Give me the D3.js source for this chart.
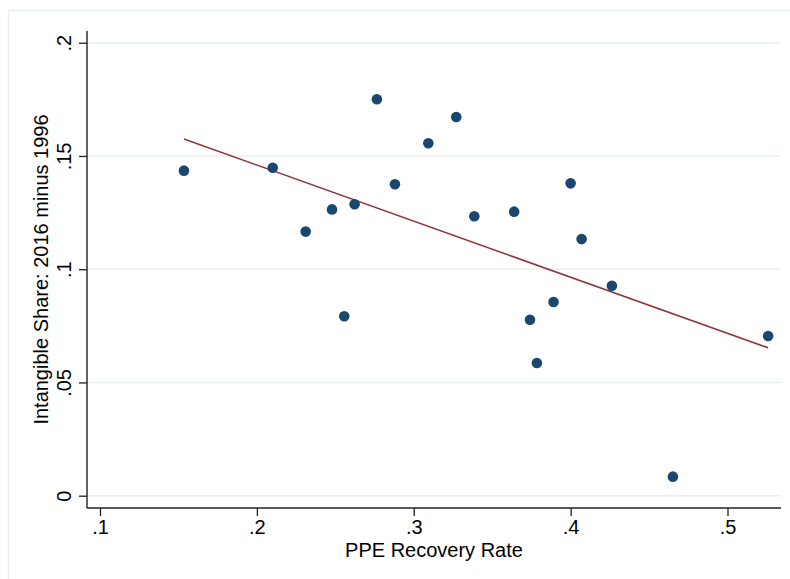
<!DOCTYPE html>
<html>
<head>
<meta charset="utf-8">
<script src="https://cdn.jsdelivr.net/npm/d3@7"></script>
<style>
  html, body { margin: 0; padding: 0; background: #ffffff; }
  svg { display: block; }
  text { font-family: "Liberation Sans", Arial, Helvetica, sans-serif; fill: #000; }
</style>
</head>
<body>
<svg id="chart" width="790" height="579"></svg>
<script>
// PPE recovery rate (x) vs change in intangible share 2016-1996 (y), one point per industry
const recoveryRate = [0.1535, 0.2101, 0.2311, 0.2479, 0.2623, 0.2557, 0.2765, 0.2880, 0.3093, 0.3271,
                      0.3386, 0.3640, 0.4000, 0.4070, 0.4263, 0.3891, 0.3741, 0.3785, 0.4652, 0.5259];
const intangibleChange = [0.1435, 0.1448, 0.1166, 0.1264, 0.1287, 0.0792, 0.1750, 0.1375, 0.1556, 0.1672,
                          0.1234, 0.1254, 0.1379, 0.1133, 0.0927, 0.0855, 0.0777, 0.0586, 0.0084, 0.0705];
// fitted line: value at the lowest and highest recovery rate
const fitX = [0.1535, 0.5259];
const fitY = [0.1575, 0.0653];
const xTicks = [0.1, 0.2, 0.3, 0.4, 0.5];
const yTicks = [0, 0.05, 0.1, 0.15, 0.2];
const xTitle = "PPE Recovery Rate";
const yTitle = "Intangible Share: 2016 minus 1996";

const svg = d3.select("#chart");

// plot region bounds
const plotLeft = 87, plotRight = 781, plotTop = 31, plotBottom = 508;

const x = d3.scaleLinear().domain([0.1, 0.5]).range([100, 727.5]);
const y = d3.scaleLinear().domain([0, 0.2]).range([495.7, 42.7]);

const fmt = d => d === 0 ? "0" : String(d).replace(/^0/, "");
const fontSize = "20px";

// outer graph-region frame
svg.append("rect")
  .attr("x", 8.5).attr("y", 10.5)
  .attr("width", 800).attr("height", 600)
  .attr("fill", "#ffffff")
  .attr("stroke", "#e8eff1").attr("stroke-width", 1.5);

// horizontal grid lines
svg.append("g").selectAll("line").data(yTicks).join("line")
  .attr("x1", plotLeft).attr("x2", plotRight)
  .attr("y1", d => y(d)).attr("y2", d => y(d))
  .attr("stroke", "#e8eff1").attr("stroke-width", 1.6);

// fitted line
svg.append("path")
  .datum(fitX.map((v, i) => [v, fitY[i]]))
  .attr("d", d3.line().x(d => x(d[0])).y(d => y(d[1])))
  .attr("fill", "none")
  .attr("stroke", "#90353b").attr("stroke-width", 1.6);

// scatter points
svg.append("g").selectAll("circle").data(recoveryRate).join("circle")
  .attr("cx", d => x(d))
  .attr("cy", (d, i) => y(intangibleChange[i]))
  .attr("r", 5.3)
  .attr("fill", "#1a476f");

// axes
const xAxis = svg.append("g")
  .attr("transform", `translate(0,${plotBottom})`)
  .call(d3.axisBottom(x).tickValues(xTicks).tickFormat(fmt).tickSize(8));
xAxis.select(".domain").remove();
xAxis.selectAll("line").attr("stroke", "#222").attr("stroke-width", 1.3);
xAxis.selectAll("text").attr("font-size", fontSize).attr("dy", 0).attr("y", 26);

const yAxis = svg.append("g")
  .attr("transform", `translate(${plotLeft},0)`)
  .call(d3.axisLeft(y).tickValues(yTicks).tickFormat(fmt).tickSize(8));
yAxis.select(".domain").remove();
yAxis.selectAll("line").attr("stroke", "#222").attr("stroke-width", 1.3);
yAxis.selectAll("text")
  .attr("font-size", fontSize)
  .attr("text-anchor", "middle")
  .attr("transform", "rotate(-90)")
  .attr("x", 0).attr("dy", 0).attr("y", -16);

// axis lines
svg.append("line").attr("x1", plotLeft).attr("x2", plotLeft).attr("y1", plotTop).attr("y2", plotBottom)
  .attr("stroke", "#222").attr("stroke-width", 1.4);
svg.append("line").attr("x1", plotLeft).attr("x2", plotRight).attr("y1", plotBottom).attr("y2", plotBottom)
  .attr("stroke", "#222").attr("stroke-width", 1.4);

// axis titles
svg.append("text")
  .attr("x", (plotLeft + plotRight) / 2).attr("y", 557)
  .attr("text-anchor", "middle").attr("font-size", fontSize)
  .text(xTitle);
svg.append("text")
  .attr("transform", `translate(48,${(plotTop + plotBottom) / 2}) rotate(-90)`)
  .attr("text-anchor", "middle").attr("font-size", fontSize)
  .text(yTitle);
</script>
</body>
</html>
